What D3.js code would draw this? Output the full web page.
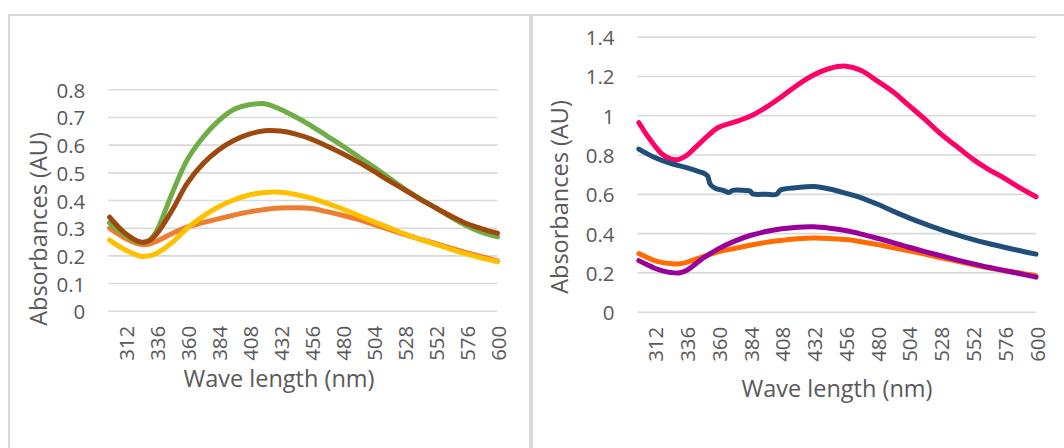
<!DOCTYPE html>
<html>
<head>
<meta charset="utf-8">
<script src="https://cdn.jsdelivr.net/npm/d3@7"></script>
<style>
  html, body { margin: 0; padding: 0; background: #ffffff; }
  svg { display: block; font-family: 'Open Sans', sans-serif; }
</style>
</head>
<body>
<svg id="chart" width="1064" height="448"></svg>
<script>
// ---------------- DATA ----------------
const xTickLabels = [312, 336, 360, 384, 408, 432, 456, 480, 504, 528, 552, 576, 600];
const yTicksLeft = [0, 0.1, 0.2, 0.3, 0.4, 0.5, 0.6, 0.7, 0.8];
const yTicksRight = [0, 0.2, 0.4, 0.6, 0.8, 1.0, 1.2, 1.4];

// Left chart
const wlLeft = [300, 312, 324, 330, 336, 348, 360, 372, 384, 396, 408, 420, 432, 444, 456, 468, 480, 492, 504, 516, 528, 540, 552, 564, 576, 588, 600];
const leftOrange = [0.298, 0.262, 0.240, 0.240, 0.250, 0.278, 0.302, 0.318, 0.332, 0.345, 0.357, 0.366, 0.371, 0.372, 0.369, 0.358, 0.345, 0.330, 0.312, 0.294, 0.276, 0.259, 0.243, 0.226, 0.210, 0.195, 0.180];
const leftGreen  = [0.318, 0.272, 0.246, 0.252, 0.285, 0.420, 0.545, 0.625, 0.685, 0.727, 0.744, 0.748, 0.728, 0.700, 0.668, 0.632, 0.596, 0.558, 0.520, 0.480, 0.440, 0.405, 0.372, 0.338, 0.307, 0.283, 0.267];
const leftBrown  = [0.338, 0.280, 0.248, 0.252, 0.275, 0.360, 0.460, 0.530, 0.580, 0.615, 0.638, 0.650, 0.649, 0.638, 0.620, 0.595, 0.568, 0.538, 0.505, 0.470, 0.437, 0.403, 0.372, 0.342, 0.315, 0.296, 0.280];
const leftYellow = [0.255, 0.220, 0.197, 0.198, 0.207, 0.245, 0.298, 0.340, 0.375, 0.400, 0.418, 0.427, 0.428, 0.420, 0.407, 0.388, 0.368, 0.345, 0.322, 0.300, 0.278, 0.258, 0.240, 0.222, 0.205, 0.190, 0.177];

// Right chart
const wlRight = [300, 306, 312, 318, 324, 330, 336, 348, 360, 372, 384, 396, 408, 420, 432, 444, 456, 468, 480, 492, 504, 516, 528, 540, 552, 564, 576, 588, 600];
const rightPink   = [0.962, 0.900, 0.845, 0.800, 0.778, 0.775, 0.795, 0.870, 0.938, 0.965, 0.995, 1.040, 1.095, 1.155, 1.205, 1.238, 1.250, 1.228, 1.175, 1.120, 1.050, 0.980, 0.905, 0.842, 0.778, 0.725, 0.680, 0.630, 0.585];
const rightOrange = [0.296, 0.277, 0.260, 0.250, 0.245, 0.243, 0.251, 0.279, 0.305, 0.322, 0.338, 0.353, 0.363, 0.371, 0.375, 0.373, 0.367, 0.356, 0.342, 0.326, 0.310, 0.293, 0.274, 0.258, 0.240, 0.224, 0.210, 0.197, 0.183];
const rightPurple = [0.260, 0.240, 0.221, 0.208, 0.200, 0.197, 0.210, 0.270, 0.320, 0.358, 0.388, 0.408, 0.422, 0.430, 0.432, 0.425, 0.413, 0.395, 0.374, 0.352, 0.328, 0.306, 0.285, 0.264, 0.245, 0.226, 0.210, 0.193, 0.176];
const wlBlue = [300, 312, 324, 336, 346, 350, 352, 354, 358, 364, 368, 371, 380, 384, 386, 396, 404, 407, 420, 432, 444, 456, 468, 480, 492, 504, 516, 528, 540, 552, 564, 576, 588, 600];
const rightBlue = [0.828, 0.785, 0.755, 0.733, 0.712, 0.702, 0.690, 0.648, 0.627, 0.617, 0.607, 0.618, 0.617, 0.614, 0.600, 0.598, 0.598, 0.620, 0.632, 0.637, 0.625, 0.604, 0.580, 0.548, 0.512, 0.478, 0.447, 0.418, 0.392, 0.368, 0.347, 0.328, 0.310, 0.293];

const xTitle = "Wave length (nm)";
const yTitle = "Absorbances (AU)";

// ---------------- DRAW ----------------
const svg = d3.select("#chart");
const textColor = "#595959";
const gridColor = "#d9d9d9";

// panel borders
svg.append("rect").attr("x", 9).attr("y", 15).attr("width", 521).attr("height", 600)
  .attr("fill", "none").attr("stroke", gridColor).attr("stroke-width", 2);
svg.append("rect").attr("x", 532).attr("y", 15).attr("width", 600).attr("height", 600)
  .attr("fill", "none").attr("stroke", gridColor).attr("stroke-width", 2);

function drawChart(cfg) {
  const x = d3.scaleLinear().domain([299, 600]).range([cfg.x0, cfg.x1]);
  const y = d3.scaleLinear().domain([0, cfg.ymax]).range([cfg.y0, cfg.y1]);
  const g = svg.append("g");

  // y axis with gridlines
  const yAxis = d3.axisLeft(y).tickValues(cfg.yTicks)
    .tickSize(-(cfg.x1 - cfg.x0)).tickPadding(23)
    .tickFormat(d => String(+d.toFixed(1)));
  const ya = g.append("g").attr("transform", `translate(${cfg.x0},0)`).call(yAxis);
  ya.select(".domain").remove();
  ya.selectAll(".tick line").attr("stroke", gridColor).attr("stroke-width", 1.6);
  ya.selectAll(".tick text").attr("fill", textColor).attr("font-size", "20.5px")
    .attr("font-family", "'Open Sans', sans-serif").attr("dy", null)
    .attr("dominant-baseline", "central");

  // x axis
  const xAxis = d3.axisBottom(x).tickValues(xTickLabels).tickSize(0);
  const xa = g.append("g").attr("transform", `translate(0,${cfg.y0})`).call(xAxis);
  xa.select(".domain").remove();
  xa.selectAll(".tick text").attr("fill", textColor).attr("font-size", "20.5px")
    .attr("font-family", "'Open Sans', sans-serif")
    .attr("x", 0).attr("y", 0).attr("dy", null)
    .attr("transform", "translate(0,15) rotate(-90)")
    .attr("text-anchor", "end").attr("dominant-baseline", "central");

  // lines
  const line = d3.line().x(d => x(d[0])).y(d => y(d[1]))
    .curve(d3.curveCatmullRom.alpha(0.5));
  cfg.series.forEach(s => {
    const pts = s.wl.map((w, i) => [w, s.values[i]]);
    g.append("path").datum(pts).attr("d", line)
      .attr("fill", "none").attr("stroke", s.color).attr("stroke-width", 5)
      .attr("stroke-linecap", "round").attr("stroke-linejoin", "round");
  });

  // titles
  g.append("text").attr("x", cfg.xtX).attr("y", cfg.xtY).attr("text-anchor", "middle")
    .attr("fill", textColor).attr("font-size", "23.5px").text(xTitle);
  g.append("text").attr("transform", `translate(${cfg.ytX},${cfg.ytY}) rotate(-90)`)
    .attr("text-anchor", "middle").attr("fill", textColor).attr("font-size", "23.5px").text(yTitle);
}

drawChart({
  x0: 108.3, x1: 497.5, y0: 310.7, y1: 89.3, ymax: 0.8, yTicks: yTicksLeft,
  xtX: 279, xtY: 387, ytX: 47, ytY: 229,
  series: [
    { wl: wlLeft, values: leftOrange, color: "#ED7D31" },
    { wl: wlLeft, values: leftGreen,  color: "#70AD47" },
    { wl: wlLeft, values: leftBrown,  color: "#9E480E" },
    { wl: wlLeft, values: leftYellow, color: "#FFC000" }
  ]
});

drawChart({
  x0: 637.5, x1: 1036, y0: 311.7, y1: 36.7, ymax: 1.4, yTicks: yTicksRight,
  xtX: 837, xtY: 397, ytX: 568, ytY: 197,
  series: [
    { wl: wlRight, values: rightPink,   color: "#FF0066" },
    { wl: wlBlue,  values: rightBlue,   color: "#1F4E79" },
    { wl: wlRight, values: rightOrange, color: "#FF6D00" },
    { wl: wlRight, values: rightPurple, color: "#990099" }
  ]
});
</script>
</body>
</html>
